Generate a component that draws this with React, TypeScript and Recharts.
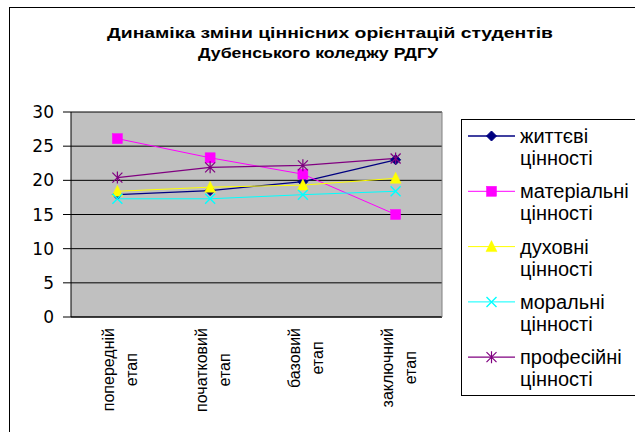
import { CartesianGrid, Line, LineChart, XAxis, YAxis } from "recharts";

const titleLines = [
  "Динаміка зміни ціннісних орієнтацій студентів",
  "Дубенського коледжу РДГУ",
];

const stages = ["попередній етап", "початковий етап", "базовий етап", "заключний етап"];

const lifeValues = [17.9, 18.5, 19.8, 23.0];
const materialValues = [26.1, 23.3, 20.9, 15.0];
const spiritualValues = [18.4, 19.0, 19.3, 20.3];
const moralValues = [17.3, 17.3, 17.9, 18.4];
const professionalValues = [20.4, 21.9, 22.2, 23.2];

const yTicks = [0, 5, 10, 15, 20, 25, 30];

type Marker = "diamond" | "square" | "triangle" | "cross" | "star";

interface SeriesDef {
  key: string;
  name: string;
  color: string;
  width: number;
  marker: Marker;
  values: number[];
}

const series: SeriesDef[] = [
  { key: "life", name: "життєві цінності", color: "#000080", width: 1.3, marker: "diamond", values: lifeValues },
  { key: "material", name: "матеріальні цінності", color: "#FF00FF", width: 1, marker: "square", values: materialValues },
  { key: "spiritual", name: "духовні цінності", color: "#FFFF00", width: 1, marker: "triangle", values: spiritualValues },
  { key: "moral", name: "моральні цінності", color: "#00FFFF", width: 1, marker: "cross", values: moralValues },
  { key: "prof", name: "професійні цінності", color: "#800080", width: 1.3, marker: "star", values: professionalValues },
];

const chartData = stages.map((stage, i) => {
  const row: Record<string, string | number> = { stage };
  series.forEach((s) => {
    row[s.key] = s.values[i];
  });
  return row;
});

const boundaryTicks = [...stages.map((_, i) => i), stages.length];

const AXIS_FONT = "'Liberation Sans', Arial, sans-serif";

let measureCtx: CanvasRenderingContext2D | null = null;
function measure(text: string, font: string): number {
  if (!measureCtx) {
    measureCtx = document.createElement("canvas").getContext("2d");
  }
  if (!measureCtx) return text.length * 8;
  measureCtx.font = font;
  return measureCtx.measureText(text).width;
}

function MarkerShape({ type, cx, cy, color }: { type: Marker; cx: number; cy: number; color: string }) {
  switch (type) {
    case "diamond":
      return (
        <polygon
          points={`${cx},${cy - 5} ${cx + 5},${cy} ${cx},${cy + 5} ${cx - 5},${cy}`}
          fill={color}
          stroke={color}
        />
      );
    case "square":
      return <rect x={cx - 5} y={cy - 5} width={10} height={10} fill={color} stroke={color} strokeWidth={0.5} />;
    case "triangle":
      return (
        <polygon
          points={`${cx},${cy - 6} ${cx + 5.5},${cy + 5} ${cx - 5.5},${cy + 5}`}
          fill={color}
          stroke={color}
          strokeWidth={0.5}
        />
      );
    case "cross":
      return (
        <path
          d={`M${cx - 5},${cy - 5}L${cx + 5},${cy + 5}M${cx - 5},${cy + 5}L${cx + 5},${cy - 5}`}
          stroke={color}
          strokeWidth={1.4}
          fill="none"
        />
      );
    case "star":
      return (
        <path
          d={`M${cx - 5},${cy - 5}L${cx + 5},${cy + 5}M${cx - 5},${cy + 5}L${cx + 5},${cy - 5}M${cx},${cy - 6}L${cx},${cy + 6}`}
          stroke={color}
          strokeWidth={1.2}
          fill="none"
        />
      );
  }
  return null;
}

function StageTick({ x, y, payload }: { x: number; y: number; payload: { value: string } }) {
  const parts = String(payload.value).split(" ");
  const font = `16px ${AXIS_FONT}`;
  const longest = Math.max(...parts.map((p) => measure(p, font)));
  const mid = 11 + longest / 2;
  return (
    <g transform={`translate(${x},${y})`}>
      <text transform="rotate(-90)" textAnchor="middle" fontFamily={AXIS_FONT} fontSize={16} fill="#000">
        {parts.map((p, i) => (
          <tspan key={p} x={-mid} y={-3 + i * 23}>
            {p}
          </tspan>
        ))}
      </text>
    </g>
  );
}

function LegendBox() {
  return (
    <svg width={190} height={277} style={{ display: "block" }}>
      <rect x={0.5} y={0.5} width={200} height={276} fill="#fff" stroke="#000" strokeWidth={1} />
      {series.map((s, i) => {
        const base = 24 + i * 55.3;
        const [first, second] = s.name.split(" ");
        return (
          <g key={s.key}>
            <line x1={7} x2={54} y1={base - 7} y2={base - 7} stroke={s.color} strokeWidth={s.width} />
            <MarkerShape type={s.marker} cx={30.5} cy={base - 7} color={s.color} />
            <text x={59} y={base} fontFamily={AXIS_FONT} fontSize={20} fill="#000">
              {first}
            </text>
            <text x={59} y={base + 22} fontFamily={AXIS_FONT} fontSize={20} fill="#000">
              {second}
            </text>
          </g>
        );
      })}
    </svg>
  );
}

// title lines are stretched to the widths they take in the reference
const titleLayout = [
  { x: 107, y: 38, length: 446 },
  { x: 198, y: 58, length: 240 },
];

export default function App() {
  return (
    <div
      style={{
        position: "fixed",
        left: 0,
        top: 0,
        width: 635,
        height: 432,
        overflow: "hidden",
        background: "#fff",
      }}
    >
      <div
        style={{
          position: "absolute",
          left: 9,
          top: 7,
          width: 700,
          height: 500,
          border: "1px solid #000",
        }}
      />
      <svg width={635} height={70} style={{ position: "absolute", left: 0, top: 0 }}>
        {titleLines.map((t, i) => (
          <text
            key={t}
            x={titleLayout[i].x}
            y={titleLayout[i].y}
            textLength={titleLayout[i].length}
            lengthAdjust="spacingAndGlyphs"
            fontFamily={AXIS_FONT}
            fontWeight="bold"
            fontSize={14.5}
            fill="#000"
          >
            {t}
          </text>
        ))}
      </svg>
      <div style={{ position: "absolute", left: 0, top: 0 }}>
        <LineChart
          width={635}
          height={432}
          data={chartData}
          margin={{ top: 112, right: 192, bottom: 0, left: 9 }}
        >
          <CartesianGrid
            vertical={false}
            stroke="#000"
            strokeWidth={1}
            fill="#C0C0C0"
            fillOpacity={1}
          />
          <XAxis
            xAxisId="bounds"
            type="number"
            domain={[0, stages.length]}
            ticks={boundaryTicks}
            allowDataOverflow
            tick={false}
            tickSize={5}
            tickLine={{ stroke: "#000" }}
            axisLine={false}
            height={0}
          />
          <XAxis
            dataKey="stage"
            scale="band"
            interval={0}
            tickLine={false}
            tickSize={0}
            tickMargin={0}
            axisLine={{ stroke: "#000" }}
            height={115}
            tick={StageTick as any}
          />
          <YAxis
            domain={[0, 30]}
            ticks={yTicks}
            interval={0}
            width={62}
            tickSize={8}
            tickMargin={9}
            axisLine={{ stroke: "#000" }}
            tickLine={{ stroke: "#000" }}
            tick={{ fill: "#000", fontSize: 17, fontFamily: "'DejaVu Sans', sans-serif" }}
          />
          <YAxis
            yAxisId="frame"
            orientation="right"
            width={1}
            tick={false}
            tickLine={false}
            axisLine={{ stroke: "#808080" }}
          />
          {series.map((s) => (
            <Line
              key={s.key}
              type="linear"
              dataKey={s.key}
              name={s.name}
              stroke={s.color}
              strokeWidth={s.width}
              dot={(props: any) => (
                <MarkerShape key={`${s.key}-${props.index}`} type={s.marker} cx={props.cx} cy={props.cy} color={s.color} />
              )}
              activeDot={false}
              isAnimationActive={false}
            />
          ))}
        </LineChart>
      </div>
      <div style={{ position: "absolute", left: 461, top: 119 }}>
        <LegendBox />
      </div>
    </div>
  );
}
